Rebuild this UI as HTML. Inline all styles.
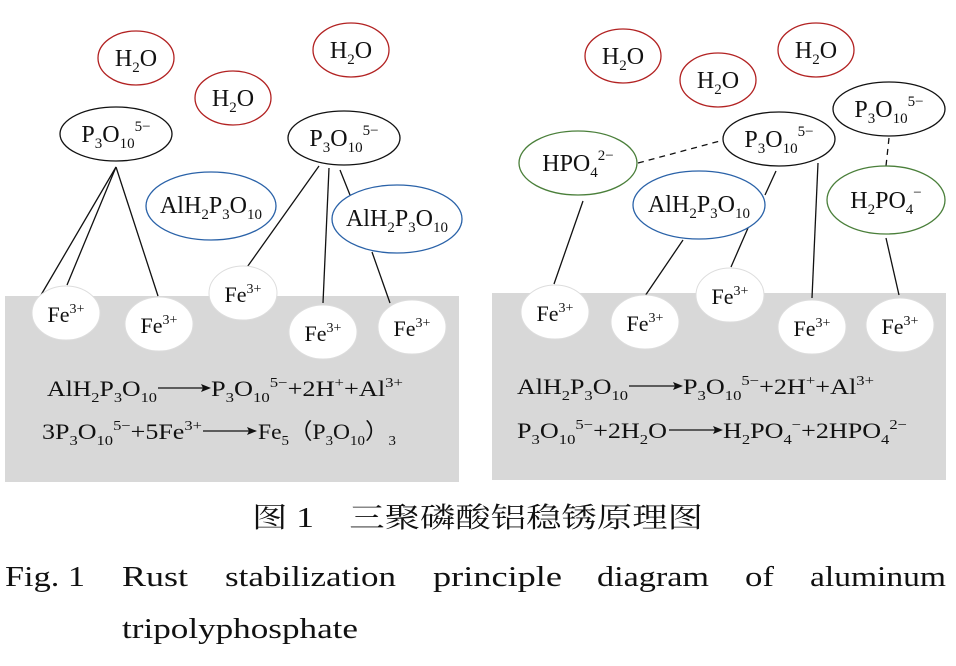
<!DOCTYPE html>
<html><head><meta charset="utf-8"><style>html,body{margin:0;padding:0;background:#fff}svg{display:block}</style></head>
<body>
<svg width="956" height="666" viewBox="0 0 956 666" xmlns="http://www.w3.org/2000/svg" font-family="Liberation Serif, serif">
<rect x="5" y="296" width="454" height="186" fill="#d8d8d8"/>
<rect x="492" y="293" width="454" height="187" fill="#d8d8d8"/>
<g stroke="#111" stroke-width="1.3" fill="none">
<line x1="116" y1="167" x2="41" y2="295"/><line x1="116" y1="167" x2="67" y2="285"/><line x1="116" y1="167" x2="158" y2="296"/>
<line x1="319" y1="166" x2="245" y2="270"/><line x1="329" y1="168" x2="323" y2="303"/><line x1="340" y1="170" x2="350" y2="195"/><line x1="372" y1="252" x2="390" y2="303"/>
<line x1="583" y1="201" x2="554" y2="284"/><line x1="683" y1="240" x2="645" y2="296"/><line x1="776" y1="171" x2="765" y2="195"/><line x1="748" y1="228" x2="731" y2="267"/><line x1="818" y1="163" x2="812" y2="298"/><line x1="886" y1="238" x2="899" y2="295"/>
<line x1="638" y1="163" x2="720" y2="141" stroke-dasharray="6,5"/><line x1="889" y1="138" x2="886" y2="166" stroke-dasharray="6,5"/>
</g>
<g fill="#fff" stroke="#b22222" stroke-width="1.3">
<ellipse cx="136" cy="58" rx="38" ry="27"/><ellipse cx="233" cy="98" rx="38" ry="27"/><ellipse cx="351" cy="50" rx="38" ry="27"/>
<ellipse cx="623" cy="56" rx="38" ry="27"/><ellipse cx="718" cy="80" rx="38" ry="27"/><ellipse cx="816" cy="50" rx="38" ry="27"/>
</g>
<g fill="#fff" stroke="#111" stroke-width="1.3">
<ellipse cx="116" cy="134" rx="56" ry="27"/><ellipse cx="344" cy="138" rx="56" ry="27"/>
<ellipse cx="779" cy="139" rx="56" ry="27"/><ellipse cx="889" cy="109" rx="56" ry="27"/>
</g>
<g fill="#fff" stroke="#2a62a8" stroke-width="1.3">
<ellipse cx="211" cy="206" rx="65" ry="34"/><ellipse cx="397" cy="219" rx="65" ry="34"/><ellipse cx="699" cy="205" rx="66" ry="34"/>
</g>
<g fill="#fff" stroke="#4a7f3a" stroke-width="1.3">
<ellipse cx="578" cy="163" rx="59" ry="32"/><ellipse cx="886" cy="200" rx="59" ry="34"/>
</g>
<g fill="#fff" stroke="#ddd" stroke-width="1">
<ellipse cx="66" cy="313" rx="34" ry="27"/><ellipse cx="159" cy="324" rx="34" ry="27"/><ellipse cx="243" cy="293" rx="34" ry="27"/><ellipse cx="323" cy="332" rx="34" ry="27"/><ellipse cx="412" cy="327" rx="34" ry="27"/>
<ellipse cx="555" cy="312" rx="34" ry="27"/><ellipse cx="645" cy="322" rx="34" ry="27"/><ellipse cx="730" cy="295" rx="34" ry="27"/><ellipse cx="812" cy="327" rx="34" ry="27"/><ellipse cx="900" cy="325" rx="34" ry="27"/>
</g>
<g font-size="24" fill="#111" text-anchor="middle">
<text x="136" y="66">H<tspan dy="6" font-size="15">2</tspan><tspan dy="-6">O</tspan></text>
<text x="233" y="106">H<tspan dy="6" font-size="15">2</tspan><tspan dy="-6">O</tspan></text>
<text x="351" y="58">H<tspan dy="6" font-size="15">2</tspan><tspan dy="-6">O</tspan></text>
<text x="623" y="64">H<tspan dy="6" font-size="15">2</tspan><tspan dy="-6">O</tspan></text>
<text x="718" y="88">H<tspan dy="6" font-size="15">2</tspan><tspan dy="-6">O</tspan></text>
<text x="816" y="58">H<tspan dy="6" font-size="15">2</tspan><tspan dy="-6">O</tspan></text>
<text x="116" y="142">P<tspan dy="6" font-size="15">3</tspan><tspan dy="-6">O</tspan><tspan dy="6" font-size="15">10</tspan><tspan dy="-17" font-size="15">5−</tspan></text>
<text x="344" y="146">P<tspan dy="6" font-size="15">3</tspan><tspan dy="-6">O</tspan><tspan dy="6" font-size="15">10</tspan><tspan dy="-17" font-size="15">5−</tspan></text>
<text x="779" y="147">P<tspan dy="6" font-size="15">3</tspan><tspan dy="-6">O</tspan><tspan dy="6" font-size="15">10</tspan><tspan dy="-17" font-size="15">5−</tspan></text>
<text x="889" y="117">P<tspan dy="6" font-size="15">3</tspan><tspan dy="-6">O</tspan><tspan dy="6" font-size="15">10</tspan><tspan dy="-17" font-size="15">5−</tspan></text>
<text x="211" y="213">AlH<tspan dy="6" font-size="15">2</tspan><tspan dy="-6">P</tspan><tspan dy="6" font-size="15">3</tspan><tspan dy="-6">O</tspan><tspan dy="6" font-size="15">10</tspan></text>
<text x="397" y="226">AlH<tspan dy="6" font-size="15">2</tspan><tspan dy="-6">P</tspan><tspan dy="6" font-size="15">3</tspan><tspan dy="-6">O</tspan><tspan dy="6" font-size="15">10</tspan></text>
<text x="699" y="212">AlH<tspan dy="6" font-size="15">2</tspan><tspan dy="-6">P</tspan><tspan dy="6" font-size="15">3</tspan><tspan dy="-6">O</tspan><tspan dy="6" font-size="15">10</tspan></text>
<text x="578" y="171">HPO<tspan dy="6" font-size="15">4</tspan><tspan dy="-17" font-size="15">2−</tspan></text>
<text x="886" y="208">H<tspan dy="6" font-size="15">2</tspan><tspan dy="-6">PO</tspan><tspan dy="6" font-size="15">4</tspan><tspan dy="-17" font-size="15">−</tspan></text>
</g>
<g font-size="22" fill="#111" text-anchor="middle">
<text x="66" y="322">Fe<tspan dy="-9" font-size="14">3+</tspan></text>
<text x="159" y="333">Fe<tspan dy="-9" font-size="14">3+</tspan></text>
<text x="243" y="302">Fe<tspan dy="-9" font-size="14">3+</tspan></text>
<text x="323" y="341">Fe<tspan dy="-9" font-size="14">3+</tspan></text>
<text x="412" y="336">Fe<tspan dy="-9" font-size="14">3+</tspan></text>
<text x="555" y="321">Fe<tspan dy="-9" font-size="14">3+</tspan></text>
<text x="645" y="331">Fe<tspan dy="-9" font-size="14">3+</tspan></text>
<text x="730" y="304">Fe<tspan dy="-9" font-size="14">3+</tspan></text>
<text x="812" y="336">Fe<tspan dy="-9" font-size="14">3+</tspan></text>
<text x="900" y="334">Fe<tspan dy="-9" font-size="14">3+</tspan></text>
</g>
<g font-size="22" fill="#111">
<text x="47" y="396" textLength="110" lengthAdjust="spacingAndGlyphs">AlH<tspan dy="6" font-size="14">2</tspan><tspan dy="-6">P</tspan><tspan dy="6" font-size="14">3</tspan><tspan dy="-6">O</tspan><tspan dy="6" font-size="14">10</tspan></text>
<text x="211" y="396" textLength="192" lengthAdjust="spacingAndGlyphs">P<tspan dy="6" font-size="14">3</tspan><tspan dy="-6">O</tspan><tspan dy="6" font-size="14">10</tspan><tspan dy="-15" font-size="14">5−</tspan><tspan dy="9">+2H</tspan><tspan dy="-9" font-size="14">+</tspan><tspan dy="9">+Al</tspan><tspan dy="-9" font-size="14">3+</tspan></text>
<text x="42" y="439" textLength="160" lengthAdjust="spacingAndGlyphs">3P<tspan dy="6" font-size="14">3</tspan><tspan dy="-6">O</tspan><tspan dy="6" font-size="14">10</tspan><tspan dy="-15" font-size="14">5−</tspan><tspan dy="9">+5Fe</tspan><tspan dy="-9" font-size="14">3+</tspan></text>
<text x="258" y="439" textLength="138" lengthAdjust="spacingAndGlyphs">Fe<tspan dy="6" font-size="14">5</tspan><tspan dy="-6">（P</tspan><tspan dy="6" font-size="14">3</tspan><tspan dy="-6">O</tspan><tspan dy="6" font-size="14">10</tspan><tspan dy="-6">）</tspan><tspan dy="6" font-size="14">3</tspan></text>
<text x="517" y="394" textLength="111" lengthAdjust="spacingAndGlyphs">AlH<tspan dy="6" font-size="14">2</tspan><tspan dy="-6">P</tspan><tspan dy="6" font-size="14">3</tspan><tspan dy="-6">O</tspan><tspan dy="6" font-size="14">10</tspan></text>
<text x="683" y="394" textLength="191" lengthAdjust="spacingAndGlyphs">P<tspan dy="6" font-size="14">3</tspan><tspan dy="-6">O</tspan><tspan dy="6" font-size="14">10</tspan><tspan dy="-15" font-size="14">5−</tspan><tspan dy="9">+2H</tspan><tspan dy="-9" font-size="14">+</tspan><tspan dy="9">+Al</tspan><tspan dy="-9" font-size="14">3+</tspan></text>
<text x="517" y="438" textLength="150" lengthAdjust="spacingAndGlyphs">P<tspan dy="6" font-size="14">3</tspan><tspan dy="-6">O</tspan><tspan dy="6" font-size="14">10</tspan><tspan dy="-15" font-size="14">5−</tspan><tspan dy="9">+2H</tspan><tspan dy="6" font-size="14">2</tspan><tspan dy="-6">O</tspan></text>
<text x="723" y="438" textLength="184" lengthAdjust="spacingAndGlyphs">H<tspan dy="6" font-size="14">2</tspan><tspan dy="-6">PO</tspan><tspan dy="6" font-size="14">4</tspan><tspan dy="-15" font-size="14">−</tspan><tspan dy="9">+2HPO</tspan><tspan dy="6" font-size="14">4</tspan><tspan dy="-15" font-size="14">2−</tspan></text>
</g>
<g stroke="#111" stroke-width="1.3">
<line x1="158" y1="388" x2="205" y2="388"/><line x1="203" y1="431" x2="251" y2="431"/>
<line x1="629" y1="386" x2="677" y2="386"/><line x1="669" y1="430" x2="717" y2="430"/>
</g>
<g fill="#111">
<polygon points="211,388 201,384 203,388 201,392"/><polygon points="257,431 247,427 249,431 247,435"/>
<polygon points="683,386 673,382 675,386 673,390"/><polygon points="723,430 713,426 715,430 713,434"/>
</g>
<text x="252" y="527" font-size="28" fill="#111" font-family="Liberation Serif, Noto Serif CJK SC, serif" textLength="451" lengthAdjust="spacingAndGlyphs">图 1　三聚磷酸铝稳锈原理图</text>
<g font-size="29" fill="#111">
<text x="5" y="586" textLength="80" lengthAdjust="spacingAndGlyphs">Fig. 1</text>
<text x="122" y="586" textLength="66" lengthAdjust="spacingAndGlyphs">Rust</text>
<text x="225" y="586" textLength="171" lengthAdjust="spacingAndGlyphs">stabilization</text>
<text x="433" y="586" textLength="129" lengthAdjust="spacingAndGlyphs">principle</text>
<text x="597" y="586" textLength="112" lengthAdjust="spacingAndGlyphs">diagram</text>
<text x="745" y="586" textLength="29" lengthAdjust="spacingAndGlyphs">of</text>
<text x="810" y="586" textLength="136" lengthAdjust="spacingAndGlyphs">aluminum</text>
<text x="122" y="638" textLength="236" lengthAdjust="spacingAndGlyphs">tripolyphosphate</text>
</g>
</svg>
</body></html>
